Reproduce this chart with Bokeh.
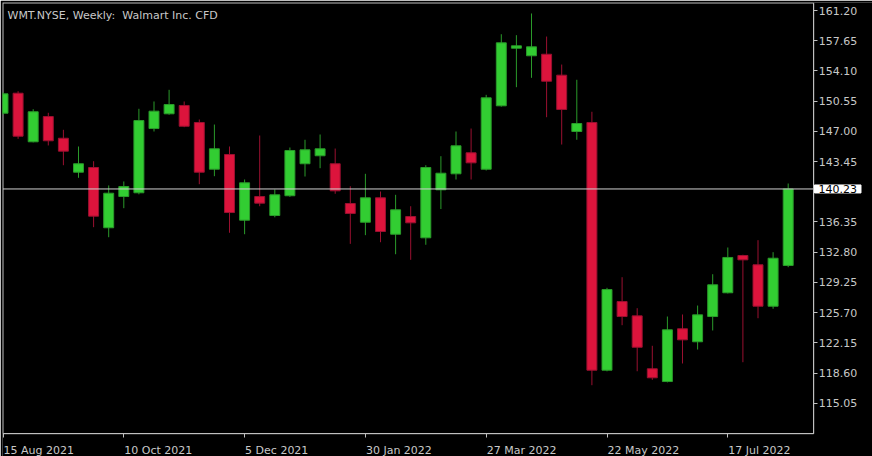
from bokeh.plotting import figure
from bokeh.models import FixedTicker, Label, ColumnDataSource, Range1d
from bokeh.embed import file_html
from bokeh.resources import INLINE

# ---- data (weekly candles, 15 Aug 2021 .. 14 Aug 2022) ----
opens = [149.13, 151.48, 145.77, 148.74, 146.19, 142.20, 142.75, 135.67, 139.34, 139.78,
         147.33, 149.06, 150.04, 148.04, 142.55, 144.28, 136.56, 139.34, 137.11, 139.43,
         143.19, 144.13, 143.19, 138.52, 136.32, 139.19, 134.91, 136.99, 134.49, 140.13,
         142.01, 144.48, 142.55, 150.00, 156.77, 155.88, 156.06, 153.60, 146.98, 148.04,
         118.93, 127.00, 125.32, 119.10, 117.60, 123.80, 122.27, 125.24, 128.03, 132.41,
         131.32, 126.45, 131.24]
highs = [151.60, 151.72, 149.60, 149.18, 147.18, 145.22, 143.49, 140.64, 141.11, 149.65,
         150.51, 151.88, 150.51, 148.39, 147.80, 145.22, 141.34, 146.51, 140.17, 145.10,
         146.01, 146.63, 144.98, 140.55, 142.01, 139.93, 139.54, 138.20, 143.02, 144.08,
         146.98, 147.33, 151.29, 158.41, 158.30, 160.85, 158.14, 154.85, 153.06, 149.30,
         128.61, 129.86, 126.22, 121.80, 125.24, 125.48, 126.53, 130.21, 133.35, 132.50,
         134.21, 132.80, 140.87]
lows = [148.95, 146.12, 145.70, 145.34, 143.02, 141.54, 135.74, 134.56, 137.97, 139.60,
        146.98, 148.95, 147.49, 140.79, 141.73, 135.08, 134.91, 138.20, 136.90, 139.30,
        141.69, 142.67, 139.66, 133.78, 134.80, 133.97, 132.56, 131.90, 133.67, 137.87,
        141.34, 141.34, 142.40, 149.90, 152.19, 153.29, 148.66, 145.45, 146.01, 117.17,
        118.80, 124.22, 118.81, 117.80, 117.50, 119.72, 121.36, 123.60, 127.95, 119.87,
        125.04, 126.15, 131.04]
closes = [151.41, 146.43, 149.30, 145.89, 144.67, 143.19, 137.03, 139.73, 140.52, 148.27,
          149.37, 150.15, 147.60, 142.20, 144.95, 137.46, 140.95, 138.56, 139.54, 144.75,
          144.83, 144.95, 140.01, 137.35, 139.19, 135.23, 137.78, 136.25, 142.75, 142.08,
          145.30, 143.30, 150.94, 157.40, 157.05, 156.93, 152.89, 149.57, 147.92, 118.93,
          128.41, 125.24, 121.63, 118.04, 123.68, 122.50, 125.44, 128.97, 132.18, 131.90,
          126.45, 132.09, 140.23]

x_tick_idx = [0, 8, 16, 24, 32, 40, 48]
x_tick_labels = ["15 Aug 2021", "10 Oct 2021", "5 Dec 2021", "30 Jan 2022",
                 "27 Mar 2022", "22 May 2022", "17 Jul 2022"]
y_ticks = [161.20, 157.65, 154.10, 150.55, 147.00, 143.45, 139.90, 136.35,
           132.80, 129.25, 125.70, 122.15, 118.60, 115.05]
hidden_y_ticks = [139.90]          # covered by the last-price tag
last_price = 140.23
title_text = "WMT.NYSE, Weekly: \u00a0Walmart Inc. CFD"

# ---- styles / geometry ----
BULL, BULL_W = "#32cd32", "#2a9a2a"
BEAR, BEAR_W = "#dc143c", "#9a1030"
FG = "#c8c8c8"
GRID = "#c0c0c0"
FONT = "DejaVu Sans"

PXX = 15.1    # pixels per bar
PXY = 8.51    # pixels per price unit
x0, x1 = (2 - 2.5) / PXX, (872 - 2.5) / PXX
y0, y1 = 161.2 - (456 - 10) / PXY, 161.2 + (10 - 2) / PXY
bx_l, bx_r = 0.0, (813.2 - 2.5) / PXX
by_b, by_t = 161.2 - (433.2 - 10) / PXY, 161.2 + (10 - 2.5) / PXY

idx = list(range(len(opens)))
up = [c >= o for o, c in zip(opens, closes)]
src = ColumnDataSource(dict(
    x=idx, o=opens, h=highs, l=lows, c=closes,
    top=[max(o, c) for o, c in zip(opens, closes)],
    bot=[min(o, c) for o, c in zip(opens, closes)],
    fill=[BULL if u else BEAR for u in up],
    wick=[BULL_W if u else BEAR_W for u in up],
))

p = figure(width=872, height=456, output_backend="svg", toolbar_location=None,
           x_range=Range1d(x0, x1), y_range=Range1d(y0, y1),
           y_axis_location="right",
           min_border_left=2, min_border_top=2, min_border_right=0, min_border_bottom=0,
           background_fill_color="black", border_fill_color="black",
           outline_line_color=None)
p.grid.visible = False

p.quad(left=[bx_l], right=[bx_r], bottom=[by_b], top=[by_t],
       fill_color=None, line_color=GRID, line_width=1)

p.segment(x0="x", y0="h", x1="x", y1="l", line_color="wick", line_width=1, source=src)
p.vbar(x="x", top="top", bottom="bot", width=0.66, fill_color="fill",
       line_color="wick", line_width=1, source=src)

p.segment(x0=[bx_l], y0=[last_price], x1=[bx_r + 1 / PXX], y1=[last_price],
          line_color="#d0d0d0", line_width=1)

ya = p.yaxis[0]
ya.fixed_location = bx_r
ya.bounds = (by_b, by_t)
ya.ticker = FixedTicker(ticks=y_ticks)
ya.major_label_overrides = {t: ("" if t in hidden_y_ticks else f"{t:.2f}") for t in y_ticks}
ya.axis_line_color = GRID
ya.major_tick_line_color = GRID
ya.major_tick_out = 4
ya.major_tick_in = 0
ya.minor_tick_line_color = None
ya.major_label_standoff = 1
ya.major_label_text_color = FG
ya.major_label_text_font = FONT
ya.major_label_text_font_size = "11px"

xa = p.xaxis[0]
xa.fixed_location = by_b
xa.bounds = (bx_l, bx_r)
xa.ticker = FixedTicker(ticks=x_tick_idx)
xa.major_label_overrides = {i: "" for i in x_tick_idx}
xa.major_label_text_font_size = "1px"
xa.axis_line_color = GRID
xa.major_tick_line_color = GRID
xa.major_tick_out = 4
xa.major_tick_in = 0
xa.minor_tick_line_color = None

label_base = 161.2 - (449.5 - 10) / PXY
for i, t in zip(x_tick_idx, x_tick_labels):
    p.add_layout(Label(x=i + 0.5 / PXX, y=label_base, text=t,
                       text_align="left", text_baseline="alphabetic", text_color=FG,
                       text_font=FONT, text_font_size="11px"))

p.add_layout(Label(x=(7 - 2.5) / PXX, y=161.2 - (15 - 10) / PXY, text=title_text,
                   text_align="left", text_baseline="alphabetic", text_color=FG,
                   text_font=FONT, text_font_size="11px"))

p.add_layout(Label(x=(814 - 2.5) / PXX, y=last_price, text=f"{last_price:.2f}",
                   text_align="left", text_baseline="middle", text_color="black",
                   text_font=FONT, text_font_size="11px",
                   background_fill_color="white", background_fill_alpha=1.0,
                   border_line_color="white",
                   padding=dict(left=4, right=4, top=0, bottom=0),
                   level="overlay"))

open("out.html", "w").write(file_html(p, INLINE))
